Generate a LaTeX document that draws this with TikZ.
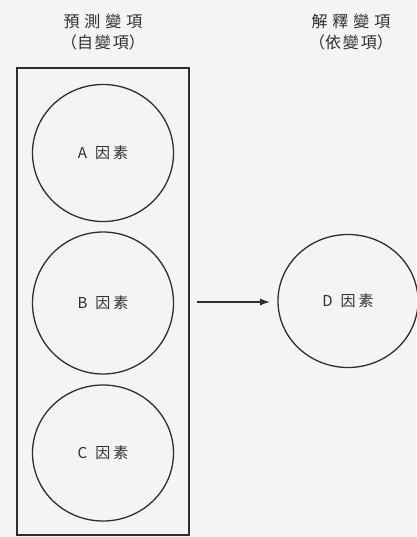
\documentclass[tikz,border=0pt]{standalone}
\usepackage{fontspec}
\newfontfamily\cjk{Noto Sans CJK TC}
\definecolor{paper}{HTML}{F4F4F4}
\definecolor{ink}{HTML}{2E2E2E}
\begin{document}
\begin{tikzpicture}[x=1pt,y=-1pt,
  factor/.style={draw=ink,line width=1.3pt,ellipse,minimum width=141pt,minimum height=137pt,inner sep=0pt,text=ink,font=\cjk\fontsize{15}{15}\selectfont},
  heading/.style={text=ink,font=\cjk\fontsize{16}{21}\selectfont,align=center,inner sep=0pt},
  link/.style={draw=ink,line width=1.3pt,-{Latex[length=10pt,width=7pt]}}]
\usetikzlibrary{shapes.geometric,arrows.meta}
\fill[paper] (0,0) rectangle (416,537);
\useasboundingbox (0,0) rectangle (416,537);
% column headings
\node[heading] (predhead) at (103,32) {預\hspace{5pt}測\hspace{5pt}變\hspace{5pt}項\\（自\hspace{2pt}變\hspace{2pt}項）};
\node[heading] (expohead) at (351,32) {解\hspace{5pt}釋\hspace{5pt}變\hspace{5pt}項\\（依\hspace{2pt}變\hspace{2pt}項）};
% predictor frame
\node[draw=ink,line width=1.6pt,minimum width=172pt,minimum height=467pt,inner sep=0pt] (frame) at (103,301.5) {};
% factors
\node[factor] (A) at (103,153) {A\hspace{8pt}因\hspace{3pt}素};
\node[factor,minimum height=142pt] (B) at (103,303) {B\hspace{8pt}因\hspace{3pt}素};
\node[factor,minimum height=136pt] (C) at (103,453) {C\hspace{8pt}因\hspace{3pt}素};
\node[factor,minimum width=140pt,minimum height=133pt] (D) at (348,301) {D\hspace{8pt}因\hspace{3pt}素};
% influence arrow
\coordinate (s) at (197,302);
\coordinate (t) at (270,302);
\draw[link] (s) -- (t);
\end{tikzpicture}
\end{document}
